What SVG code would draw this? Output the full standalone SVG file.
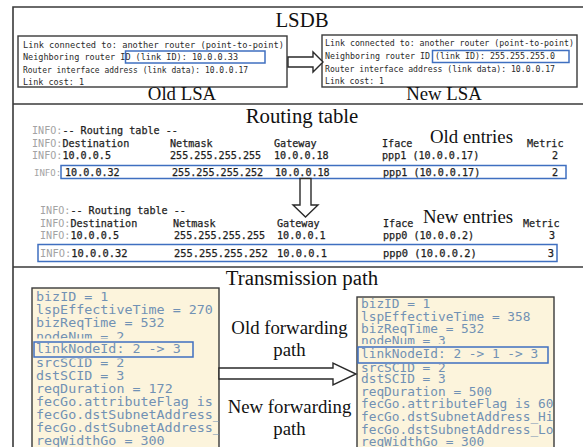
<svg xmlns="http://www.w3.org/2000/svg" width="583" height="447" viewBox="0 0 583 447">
  <style>
    .frame { fill: none; stroke: #3a3a3a; stroke-width: 1.6; }
    .box { fill: #ffffff; stroke: #3a3a3a; stroke-width: 1.4; }
    .hl { fill: none; stroke: #3f6fc0; stroke-width: 1.5; }
    .title { font-family: "Liberation Serif", serif; font-size: 20.8px; fill: #111; text-anchor: middle; }
    .label { font-family: "Liberation Serif", serif; font-size: 18.8px; fill: #111; text-anchor: middle; }
    .lsa { font-family: "DejaVu Sans Mono", monospace; fill: #2a2a2a; }
    .rt { font-family: "DejaVu Sans Mono", monospace; font-size: 10.1px; fill: #1e1e1e; stroke: #1e1e1e; stroke-width: 0.25; }
    .rt .info { fill: #a3a3a3; stroke: none; }
    .rtb { font-family: "DejaVu Sans Mono", monospace; font-size: 10.4px; fill: #1e1e1e; }
    .num { text-anchor: end; }
    .code { fill: #fcf4dc; stroke: #3a3a3a; stroke-width: 1.4; }
    .ct { font-family: "DejaVu Sans Mono", monospace; fill: #7191b4; }
    .ctl { font-size: 11.8px; }
    .ctr { font-size: 11.4px; }
    .arrow { fill: #ffffff; stroke: #2a2a2a; stroke-width: 1.4; stroke-linejoin: miter; }
  </style>
  <defs>
    <clipPath id="clipOldCode"><rect x="32" y="288" width="187" height="170"/></clipPath>
    <clipPath id="clipNewCode"><rect x="357" y="297" width="197" height="160"/></clipPath>
    <clipPath id="clipOldAbove"><rect x="32" y="288" width="187" height="50.5"/></clipPath>
    <clipPath id="clipOldBelow"><rect x="32" y="358.5" width="187" height="100"/></clipPath>
    <clipPath id="clipNewAbove"><rect x="357" y="297" width="197" height="47"/></clipPath>
    <clipPath id="clipNewBelow"><rect x="357" y="364" width="197" height="100"/></clipPath>
  </defs>

  <rect width="583" height="447" fill="#ffffff"/>

  <!-- outer frame and section dividers -->
  <g id="frame">
    <path class="frame" d="M13,447 V7 H583"/>
    <path class="frame" d="M13,104 H583"/>
    <path class="frame" d="M13,267 H583"/>
  </g>

  <!-- section titles -->
  <g id="titles">
    <text class="title" x="302" y="27">LSDB</text>
    <text class="title" x="302" y="123">Routing table</text>
    <text class="title" x="302" y="285">Transmission path</text>
  </g>

  <!-- LSDB: old link-state advertisement -->
  <g id="old-lsa">
    <rect class="box" x="18" y="36" width="269" height="51"/>
    <g class="lsa" font-size="8.5">
      <text x="23" y="47.5" textLength="261" lengthAdjust="spacingAndGlyphs">Link connected to: another router (point-to-point)</text>
      <text x="23" y="60" textLength="215" lengthAdjust="spacingAndGlyphs">Neighboring router ID (link ID): 10.0.0.33</text>
      <text x="23" y="72.5" textLength="225" lengthAdjust="spacingAndGlyphs">Router interface address (link data): 10.0.0.17</text>
      <text x="23" y="84.5" textLength="61" lengthAdjust="spacingAndGlyphs">Link cost: 1</text>
    </g>
    <rect class="hl" x="125.5" y="51" width="139.5" height="12"/>
    <text class="label" x="182" y="100">Old LSA</text>
  </g>

  <!-- LSDB: new link-state advertisement -->
  <g id="new-lsa">
    <rect class="box" x="322" y="35" width="255" height="52"/>
    <g class="lsa" font-size="8.2">
      <text x="325" y="45.5" textLength="249" lengthAdjust="spacingAndGlyphs">Link connected to: another router (point-to-point)</text>
      <text x="325" y="58.5" textLength="230" lengthAdjust="spacingAndGlyphs">Neighboring router ID (link ID): 255.255.255.0</text>
      <text x="325" y="71.5" textLength="230" lengthAdjust="spacingAndGlyphs">Router interface address (link data): 10.0.0.17</text>
      <text x="325" y="83.5" textLength="59" lengthAdjust="spacingAndGlyphs">Link cost: 1</text>
    </g>
    <rect class="hl" x="432.5" y="50.5" width="136.5" height="12"/>
    <text class="label" x="444" y="100">New LSA</text>
  </g>

  <!-- routing table before the change -->
  <g id="old-routes" class="rt">
    <text x="32" y="134"><tspan class="info">INFO:</tspan>-- Routing table --</text>
    <text x="32" y="146.5"><tspan class="info">INFO:</tspan>Destination</text>
    <text x="170" y="146.5">Netmask</text>
    <text x="274" y="146.5">Gateway</text>
    <text x="382" y="146.5">Iface</text>
    <text x="527" y="146.5">Metric</text>
    <text x="32" y="159"><tspan class="info">INFO:</tspan>10.0.0.5</text>
    <text x="170" y="159">255.255.255.255</text>
    <text x="274" y="159">10.0.0.18</text>
    <text x="382" y="159">ppp1 (10.0.0.17)</text>
    <text class="num" x="558" y="159">2</text>
    <text x="34" y="175.5" font-size="9"><tspan class="info" fill="#bdbdbd">INFO:</tspan></text>
    <text x="65" y="175.5">10.0.0.32</text>
    <text x="172" y="175.5">255.255.255.252</text>
    <text x="275" y="175.5">10.0.0.18</text>
    <text x="383" y="175.5">ppp1 (10.0.0.17)</text>
    <text class="num" x="558" y="175.5">2</text>
    <rect class="hl" x="61" y="165.5" width="505" height="13"/>
    <text class="label" x="471.5" y="143" stroke="none">Old entries</text>
  </g>

  <!-- routing table after the change -->
  <g id="new-routes" class="rt">
    <text x="40" y="214"><tspan class="info">INFO:</tspan>-- Routing table --</text>
    <text x="40" y="226.5"><tspan class="info">INFO:</tspan>Destination</text>
    <text x="173" y="226.5">Netmask</text>
    <text x="277" y="226.5">Gateway</text>
    <text x="383" y="226.5">Iface</text>
    <text x="523" y="226.5">Metric</text>
    <text x="40" y="239"><tspan class="info">INFO:</tspan>10.0.0.5</text>
    <text x="174" y="239">255.255.255.255</text>
    <text x="277" y="239">10.0.0.1</text>
    <text x="383" y="239">ppp0 (10.0.0.2)</text>
    <text class="num" x="555" y="239">3</text>
    <g class="rtb">
      <text x="40" y="257"><tspan class="info">INFO:</tspan>10.0.0.32</text>
      <text x="174" y="257">255.255.255.252</text>
      <text x="277" y="257">10.0.0.1</text>
      <text x="383" y="257">ppp0 (10.0.0.2)</text>
      <text class="num" x="554" y="257">3</text>
    </g>
    <rect class="hl" x="38" y="244.5" width="519" height="17"/>
    <text class="label" x="468" y="222.5" stroke="none">New entries</text>
  </g>

  <!-- forwarding path record before the change -->
  <g id="old-path">
    <rect class="code" x="32" y="288" width="187" height="170"/>
    <g class="ct ctl" clip-path="url(#clipOldCode)">
      <text x="36" y="301" textLength="72.4" lengthAdjust="spacingAndGlyphs">bizID = 1</text>
      <text x="36" y="314.1" textLength="176.9" lengthAdjust="spacingAndGlyphs">lspEffectiveTime = 270</text>
      <text x="36" y="327.2" textLength="128.6" lengthAdjust="spacingAndGlyphs">bizReqTime = 532</text>
      <text x="36" y="353.4" textLength="144.7" lengthAdjust="spacingAndGlyphs">linkNodeId: 2 -&gt; 3</text>
      <text x="36" y="379.6" textLength="88.4" lengthAdjust="spacingAndGlyphs">dstSCID = 3</text>
      <text x="36" y="392.7" textLength="136.7" lengthAdjust="spacingAndGlyphs">reqDuration = 172</text>
      <text x="36" y="405.8" textLength="176.9" lengthAdjust="spacingAndGlyphs">fecGo.attributeFlag is</text>
      <text x="36" y="418.9" textLength="184.9" lengthAdjust="spacingAndGlyphs">fecGo.dstSubnetAddress_</text>
      <text x="36" y="432" textLength="184.9" lengthAdjust="spacingAndGlyphs">fecGo.dstSubnetAddress_</text>
      <text x="36" y="445.1" textLength="128.6" lengthAdjust="spacingAndGlyphs">reqWidthGo = 300</text>
    </g>
    <text class="ct ctl" x="36" y="340.8" textLength="88.4" lengthAdjust="spacingAndGlyphs" clip-path="url(#clipOldAbove)">nodeNum = 2</text>
    <text class="ct ctl" x="36" y="366.5" textLength="88.4" lengthAdjust="spacingAndGlyphs" clip-path="url(#clipOldBelow)">srcSCID = 2</text>
    <rect class="hl" x="34" y="342" width="159" height="15"/>
  </g>

  <!-- forwarding path record after the change -->
  <g id="new-path">
    <rect class="code" x="357" y="297" width="197" height="160"/>
    <g class="ct ctr" clip-path="url(#clipNewCode)">
      <text x="361" y="308" textLength="69.3" lengthAdjust="spacingAndGlyphs">bizID = 1</text>
      <text x="361" y="320.6" textLength="169.4" lengthAdjust="spacingAndGlyphs">lspEffectiveTime = 358</text>
      <text x="361" y="333.1" textLength="123.2" lengthAdjust="spacingAndGlyphs">bizReqTime = 532</text>
      <text x="361" y="358.2" textLength="177.1" lengthAdjust="spacingAndGlyphs">linkNodeId: 2 -&gt; 1 -&gt; 3</text>
      <text x="361" y="383.3" textLength="84.7" lengthAdjust="spacingAndGlyphs">dstSCID = 3</text>
      <text x="361" y="395.9" textLength="130.9" lengthAdjust="spacingAndGlyphs">reqDuration = 500</text>
      <text x="361" y="408.4" textLength="192.5" lengthAdjust="spacingAndGlyphs">fecGo.attributeFlag is 60</text>
      <text x="361" y="421" textLength="192.5" lengthAdjust="spacingAndGlyphs">fecGo.dstSubnetAddress_Hi</text>
      <text x="361" y="433.5" textLength="192.5" lengthAdjust="spacingAndGlyphs">fecGo.dstSubnetAddress_Lo</text>
      <text x="361" y="446" textLength="123.2" lengthAdjust="spacingAndGlyphs">reqWidthGo = 300</text>
    </g>
    <text class="ct ctr" x="361" y="344.5" textLength="84.7" lengthAdjust="spacingAndGlyphs" clip-path="url(#clipNewAbove)">nodeNum = 3</text>
    <text class="ct ctr" x="361" y="372" textLength="84.7" lengthAdjust="spacingAndGlyphs" clip-path="url(#clipNewBelow)">srcSCID = 2</text>
    <rect class="hl" x="358" y="347" width="190" height="16"/>
  </g>

  <!-- captions beside the forwarding arrow -->
  <g id="path-labels">
    <text class="label" x="289.5" y="334">Old forwarding</text>
    <text class="label" x="289.5" y="356">path</text>
    <text class="label" x="289.5" y="413">New forwarding</text>
    <text class="label" x="289.5" y="435">path</text>
  </g>

  <!-- hollow arrows linking old and new states -->
  <g id="connectors">
    <polygon class="arrow" points="288,57 313,57 313,52 323,62 313,72 313,67 288,67"/>
    <polygon class="arrow" points="300,178.5 311,178.5 311,205 318,205 305.5,217 293,205 300,205"/>
    <polygon class="arrow" points="219,368 333,368 333,363 356,374 333,385 333,379 219,379"/>
  </g>
</svg>
